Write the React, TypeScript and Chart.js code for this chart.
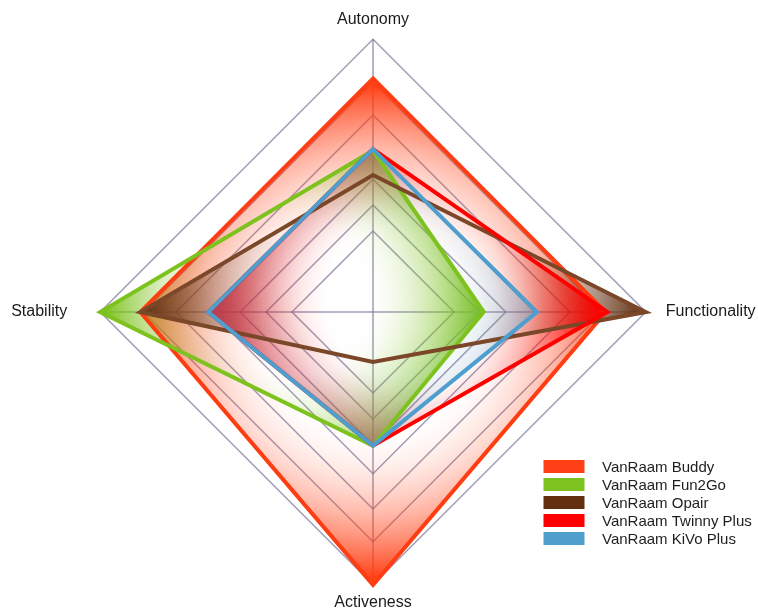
import { useEffect, useRef } from 'react';
import { Chart, registerables } from 'chart.js';

Chart.register(...registerables);

// ---- data ----
const AXES = ['Autonomy', 'Functionality', 'Activeness', 'Stability'];
const SERIES_NAMES = [
  'VanRaam Buddy',
  'VanRaam Fun2Go',
  'VanRaam Opair',
  'VanRaam Twinny Plus',
  'VanRaam KiVo Plus',
];
const BUDDY = [85.6, 85.3, 100, 85.3];
const FUN2GO = [59.2, 40.6, 49, 100];
const OPAIR = [50.2, 100, 18.3, 85.3];
const TWINNY = [59.7, 85.9, 49, 60.4];
const KIVO = [59.7, 60.1, 49, 60.4];
const SERIES_VALUES = [BUDDY, FUN2GO, OPAIR, TWINNY, KIVO];
const RING_TICKS = [0, 29.7, 39.2, 48.7, 59.3, 72.2, 84.2, 100];
const SCALE_MIN = 0;
const SCALE_MAX = 100;

// ---- style ----
const FILL_COLORS = ['#FF3D12', '#7DC21E', '#6B3A1E', '#FF0000', '#4C9FCE'];
const FILL_MAX_ALPHA = [1, 1, 1, 1, 0.4];
const LINE_COLORS = ['#FF3D12', '#7DC21E', '#7A4729', '#FF0000', '#4C9FCE'];
const LEGEND_COLORS = ['#FF4016', '#7DC21E', '#62300F', '#FF0000', '#4FA0CC'];
const GRID_COLOR = 'rgba(128,124,158,0.75)';
const LABEL_PADDING = [10, 20, 8, 33];
const FONT_FAMILY = '"Liberation Sans", Arial, sans-serif';

function hexToRgb(hex: string): [number, number, number] {
  const h = hex.replace('#', '');
  return [parseInt(h.slice(0, 2), 16), parseInt(h.slice(2, 4), 16), parseInt(h.slice(4, 6), 16)];
}

function strengthAt(s: number): number {
  if (s <= 0.38) return 0;
  return Math.min(1, Math.pow((s - 0.38) / 0.6, 1.8));
}

// radial gradient centred on the series' own bounding box (clear centre -> colour)
function radialFill(c: any): any {
  const chart = c.chart;
  const scale = chart.scales && chart.scales.r;
  if (!scale || !chart.chartArea || c.datasetIndex === undefined) return 'rgba(0,0,0,0)';
  const di = c.datasetIndex;
  const data = chart.data.datasets[di].data as number[];
  const pts = data.map((v, i) => scale.getPointPositionForValue(i, v));
  const xs = pts.map((p: any) => p.x);
  const ys = pts.map((p: any) => p.y);
  const minX = Math.min(...xs);
  const maxX = Math.max(...xs);
  const minY = Math.min(...ys);
  const maxY = Math.max(...ys);
  const cx = (minX + maxX) / 2;
  const cy = (minY + maxY) / 2;
  const R = Math.max(maxX - minX, maxY - minY) / 2 || 1;
  const [r, g, b] = hexToRgb(FILL_COLORS[di]);
  const m = FILL_MAX_ALPHA[di];
  const grad = chart.ctx.createRadialGradient(cx, cy, 0, cx, cy, R);
  for (let k = 0; k <= 30; k++) {
    const s = k / 30;
    grad.addColorStop(s, `rgba(${r},${g},${b},${(strengthAt(s) * m).toFixed(3)})`);
  }
  return grad;
}

const boxLegend = {
  id: 'boxLegend',
  afterDraw(chart: any) {
    const ctx = chart.ctx as CanvasRenderingContext2D;
    ctx.save();
    ctx.font = `15px ${FONT_FAMILY}`;
    ctx.textBaseline = 'alphabetic';
    ctx.textAlign = 'left';
    SERIES_NAMES.forEach((name, i) => {
      const y = 460 + i * 18;
      ctx.fillStyle = LEGEND_COLORS[i];
      ctx.fillRect(543.5, y, 41, 13);
      ctx.fillStyle = '#1e1e1e';
      ctx.fillText(name, 602, y + 11.5);
    });
    ctx.restore();
  },
};

export default function App() {
  const ref = useRef<HTMLCanvasElement | null>(null);

  useEffect(() => {
    if (!ref.current) return;
    const chart = new Chart(ref.current, {
      type: 'radar',
      data: {
        labels: AXES,
        datasets: SERIES_NAMES.map((name, i) => ({
          label: name,
          data: SERIES_VALUES[i],
          borderColor: LINE_COLORS[i],
          backgroundColor: radialFill,
          borderWidth: 4,
          fill: true,
          order: SERIES_NAMES.length - i,
          pointRadius: 0,
          pointHoverRadius: 0,
        })),
      },
      options: {
        animation: false,
        responsive: false,
        devicePixelRatio: 1,
        layout: { padding: { top: 10, left: 0, right: 0, bottom: 0 } },
        elements: { line: { tension: 0, borderJoinStyle: 'miter' } },
        plugins: {
          legend: { display: false },
          tooltip: { enabled: false },
          filler: { drawTime: 'beforeDatasetsDraw' },
        },
        scales: {
          r: {
            min: SCALE_MIN,
            max: SCALE_MAX,
            ticks: { display: false },
            afterBuildTicks: (s: any) => {
              s.ticks = RING_TICKS.map((v) => ({ value: v }));
            },
            grid: { color: GRID_COLOR, lineWidth: 1.5 },
            angleLines: { color: GRID_COLOR, lineWidth: 1.5 },
            pointLabels: {
              color: '#1a1a1a',
              font: { family: FONT_FAMILY, size: 16 },
              padding: (c: any) => LABEL_PADDING[c.index],
            },
          },
        },
      } as any,
      plugins: [boxLegend],
    });
    return () => chart.destroy();
  }, []);

  return (
    <div style={{ position: 'fixed', left: 0, top: 0, width: 768, height: 614 }}>
      <canvas ref={ref} width={768} height={614} style={{ width: 768, height: 614, display: 'block' }} />
    </div>
  );
}
